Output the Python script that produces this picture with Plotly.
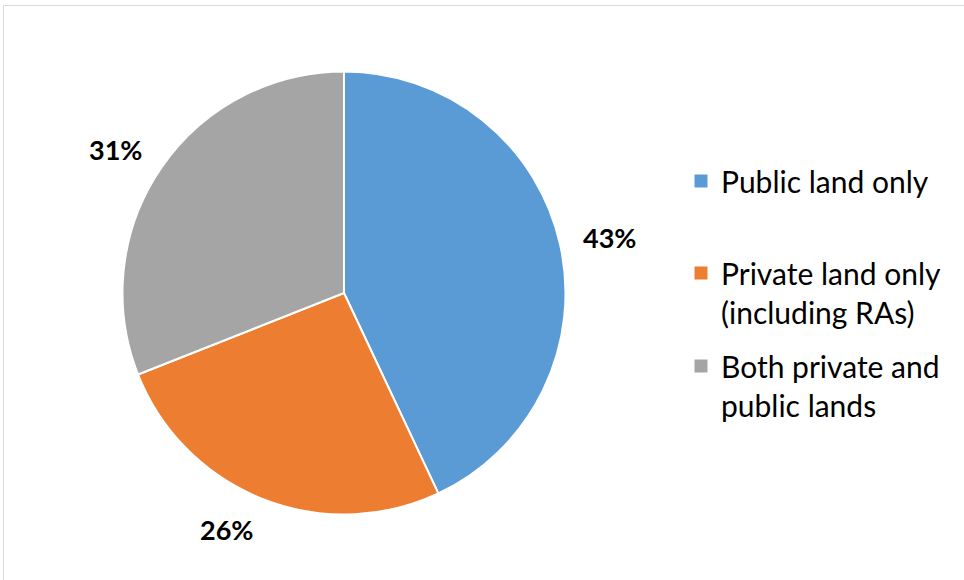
import math
import plotly.graph_objects as go

# ---- data ----
categories = ["Public land only", "Private land only (including RAs)", "Both private and public lands"]
legend_labels = ["Public land only", "Private land only<br>(including RAs)", "Both private and<br>public lands"]
values = [43, 26, 31]
colors = ["#5B9BD5", "#ED7D31", "#A5A5A5"]

W, H = 964, 580
cx, cy, R = 344.0, 293.0, 221.5  # pie centre / radius in px
gap = 22.0
lab_w, lab_h = 55.0, 22.0

fig = go.Figure()
fig.add_trace(go.Pie(
    labels=categories, values=values, sort=False, direction="clockwise", rotation=0,
    marker=dict(colors=colors, line=dict(color="white", width=2)),
    textinfo="none", hoverinfo="label+percent", showlegend=False,
    domain=dict(x=[(cx - R) / W, (cx + R) / W], y=[1 - (cy + R) / H, 1 - (cy - R) / H]),
))

# percentage labels, placed outside each slice along its bisector
total = sum(values)
acc = 0.0
annotations = []
for v in values:
    mid = (acc + v / 2) / total * 2 * math.pi
    acc += v
    s, c = math.sin(mid), math.cos(mid)
    ax = cx + (R + gap) * s
    ay = cy - (R + gap) * c
    px = ax + (lab_w / 2) * (1 if s >= 0 else -1)
    py = ay - (lab_h / 2) * c
    annotations.append(dict(
        x=px / W, y=1 - py / H, xref="paper", yref="paper", showarrow=False,
        text=f"<b>{round(v / total * 100)}%</b>",
        font=dict(family="Lato", size=27, color="#000000"),
        xanchor="center", yanchor="middle"))

# legend entries (one legend per entry so spacing matches)
legend_tops = [155, 247, 340]
legend_names = ["legend", "legend2", "legend3"]
for lab, col, lg in zip(legend_labels, colors, legend_names):
    fig.add_trace(go.Scatter(
        x=[None], y=[None], mode="markers", name=lab, legend=lg,
        marker=dict(symbol="square", size=13, color=col), showlegend=True))

legend_common = dict(xanchor="left", yanchor="top", valign="top",
                     font=dict(family="Lato", size=30, color="#000000"),
                     bgcolor="rgba(0,0,0,0)", borderwidth=0)
layout_legends = {}
for lg, top in zip(legend_names, legend_tops):
    layout_legends[lg] = dict(x=681 / W, y=1 - top / H, **legend_common)

fig.update_layout(
    width=W, height=H, margin=dict(l=0, r=0, t=0, b=0),
    paper_bgcolor="white", plot_bgcolor="white",
    xaxis=dict(visible=False), yaxis=dict(visible=False),
    annotations=annotations,
    shapes=[dict(type="rect", xref="paper", yref="paper",
                 x0=3.5 / W, y0=1 - 5.5 / H, x1=1.05, y1=-0.05,
                 line=dict(color="#D9D9D9", width=1), fillcolor="rgba(0,0,0,0)")],
    **layout_legends,
)

fig.write_html("out.html", config={"displayModeBar": False},
               post_script="document.body.style.margin='0';document.body.style.overflow='hidden';")
